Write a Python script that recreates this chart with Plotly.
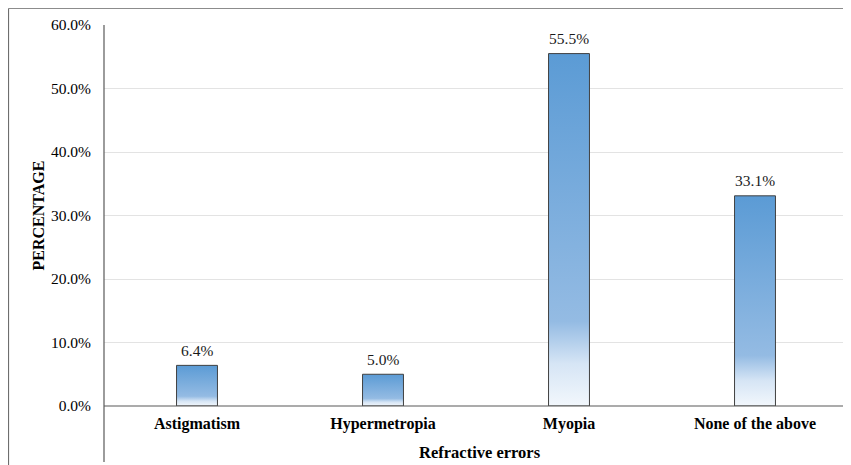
import plotly.graph_objects as go

categories = ["Astigmatism", "Hypermetropia", "Myopia", "None of the above"]
values = [6.4, 5.0, 55.5, 33.1]
y_ticks = [0, 10, 20, 30, 40, 50, 60]
y_tick_labels = [f"{v:.1f}%" for v in y_ticks]
data_labels = [f"{v:.1f}%" for v in values]

FONT = "Liberation Serif, Times New Roman, serif"
OFF = 8  # page body margin in the browser
W, H = 851 - OFF, 465 - OFF
L, R, T = 104 - OFF, 3, 25 - OFF
B = H - (406 - OFF)
PW, PH = W - L - R, H - T - B
bar_w = 0.22

def px_x(px):  # page pixel -> paper x
    return (px - OFF - L) / PW

def px_y(py):  # page pixel -> paper y
    return (H - B - (py - OFF)) / PH

fig = go.Figure()

idx = list(range(len(categories)))
for i, v in zip(idx, values):
    x0, x1 = i - bar_w / 2, i + bar_w / 2
    fig.add_trace(go.Scatter(
        x=[x0, x1, x1, x0, x0], y=[0, 0, v, v, 0],
        mode="lines", fill="toself",
        fillgradient=dict(type="vertical",
                          colorscale=[[0, "#f2f7fc"], [0.12, "#d6e5f5"],
                                      [0.24, "#94bbe3"], [1, "#5b9bd5"]]),
        line=dict(color="#404040", width=1),
        hoverinfo="skip", showlegend=False))

annotations = [
    dict(text=lab, x=i, y=v, xref="x", yref="y", showarrow=False,
         yanchor="middle", xanchor="center", yshift=15,
         font=dict(family=FONT, size=15.5, color="#1a1a1a"))
    for i, v, lab in zip(idx, values, data_labels)
]
annotations += [
    dict(text="<b>PERCENTAGE</b>", xref="paper", yref="paper",
         x=px_x(38), y=0.5, textangle=-90, showarrow=False,
         font=dict(family=FONT, size=16, color="#000000"),
         xanchor="center", yanchor="middle"),
    dict(text="<b>Refractive errors</b>", xref="paper", yref="paper",
         x=px_x(480), y=px_y(452), showarrow=False,
         font=dict(family=FONT, size=16.5, color="#000000"),
         xanchor="center", yanchor="middle"),
]

shape_line = dict(type="line", xref="paper", yref="paper", layer="above")
shapes = [
    dict(shape_line, x0=px_x(8.5), x1=px_x(851), y0=px_y(8.5), y1=px_y(8.5),
         line=dict(color="#8c8c8c", width=1.2)),
    dict(shape_line, x0=px_x(8.5), x1=px_x(8.5), y0=px_y(8.5), y1=px_y(470),
         line=dict(color="#6e6e6e", width=1.2)),
    dict(shape_line, x0=0, x1=0, y0=1, y1=px_y(462),
         line=dict(color="#595959", width=1.2)),
    dict(shape_line, x0=0, x1=px_x(849), y0=0, y1=0,
         line=dict(color="#595959", width=1.2)),
    dict(shape_line, x0=px_x(849), x1=px_x(849), y0=0, y1=px_y(462),
         line=dict(color="#595959", width=1.2)),
]

fig.update_layout(
    width=W, height=H,
    margin=dict(l=L, r=R, t=T, b=B),
    paper_bgcolor="white", plot_bgcolor="white",
    font=dict(family=FONT, size=15.5, color="#000000"),
    shapes=shapes,
    annotations=annotations,
    xaxis=dict(range=[-0.5, 3.5], tickvals=idx, ticktext=categories,
               showgrid=False, zeroline=False, showline=False, ticks="",
               tickfont=dict(family=FONT, size=16, color="#000000", weight="bold"),
               ticklabelstandoff=6, fixedrange=True),
    yaxis=dict(range=[0, 60], tickvals=y_ticks, ticktext=y_tick_labels,
               showgrid=True, gridcolor="#e3e3e3", gridwidth=1,
               zeroline=False, showline=False, ticks="",
               tickfont=dict(family=FONT, size=15.5, color="#000000"),
               ticklabelstandoff=12, fixedrange=True),
)

fig.write_html("out.html")
